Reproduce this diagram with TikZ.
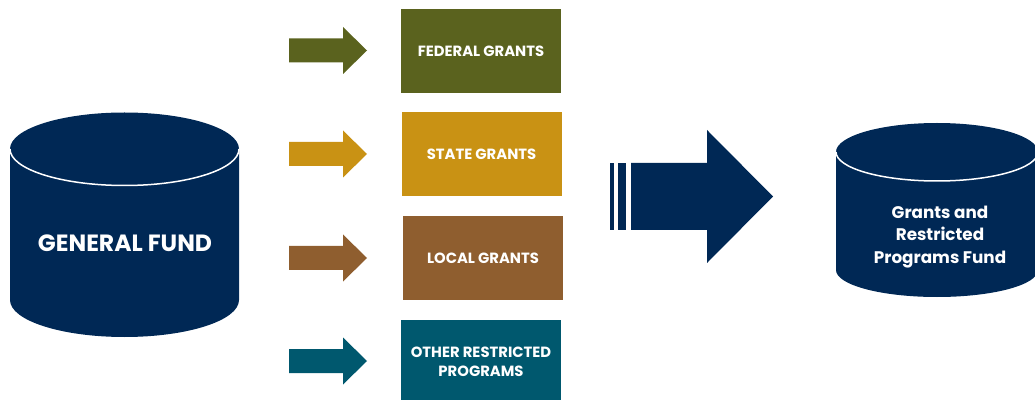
\documentclass[tikz,border=0pt]{standalone}
\usepackage{fontspec}
\setmainfont{Poppins}
\usepackage{tikz}

\definecolor{fundblue}{RGB}{0,40,85}
\definecolor{federalgreen}{RGB}{90,98,30}
\definecolor{stategold}{RGB}{201,146,20}
\definecolor{localbrown}{RGB}{143,94,47}
\definecolor{otherteal}{RGB}{0,88,110}

\tikzset{
  grantbox/.style={minimum width=160pt, minimum height=84pt, inner sep=0pt,
    text=white, align=center, font=\bfseries\fontsize{14.8}{19}\selectfont},
  fundlabel/.style={text=white, align=center, inner sep=0pt},
  rimline/.style={white, line width=1.5pt}
}

\begin{document}
\begin{tikzpicture}[x=1pt, y=1pt]
			\useasboundingbox (0,0) rectangle (1035,399);
			% general fund
			\fill [fundblue] (10,250) -- (10,99) arc [start angle=180, end angle=360, x radius=114.5, y radius=37] -- (239,250) arc [start angle=0, end angle=180, x radius=114.5, y radius=36.5] -- cycle;
			\draw [rimline] (10,250) arc [start angle=180, end angle=360, x radius=114.5, y radius=36.5];
			\node [fundlabel, font=\bfseries\fontsize{23.5}{27}\selectfont] (general) at (125,156) {GENERAL FUND};
			% grants
			\node [grantbox, fill=federalgreen] (federal) at (481,348) {FEDERAL GRANTS};
			\node [grantbox, fill=stategold] (state) at (481.5,245) {STATE GRANTS};
			\node [grantbox, fill=localbrown] (local) at (483,141) {LOCAL GRANTS};
			\node [grantbox, fill=otherteal] (other) at (481,37) {OTHER RESTRICTED\\PROGRAMS};
			\fill [federalgreen] (289,360.5) -- (343,360.5) -- (343,372) -- (367,348.5) -- (343,325) -- (343,336.5) -- (289,336.5) -- cycle;
			\fill [stategold] (289,257) -- (343,257) -- (343,268.5) -- (367,245) -- (343,221.5) -- (343,233) -- (289,233) -- cycle;
			\fill [localbrown] (289,153) -- (343,153) -- (343,164.5) -- (367,141) -- (343,117.5) -- (343,129) -- (289,129) -- cycle;
			\fill [otherteal] (289,50) -- (343,50) -- (343,61.5) -- (367,38) -- (343,14.5) -- (343,26) -- (289,26) -- cycle;
			% big arrow
			\fill [fundblue] (610,169) rectangle (614,236);
			\fill [fundblue] (618,169) rectangle (626,236);
			\fill [fundblue] (631,236) -- (707,236) -- (707,269) -- (773,202.5) -- (707,136) -- (707,169) -- (631,169) -- cycle;
			% restricted fund
			\fill [fundblue] (836,247) -- (836,129) arc [start angle=180, end angle=360, x radius=101, y radius=27] -- (1038,247) arc [start angle=0, end angle=180, x radius=101, y radius=29] -- cycle;
			\draw [rimline] (836,247) arc [start angle=180, end angle=360, x radius=101, y radius=29];
			\node [fundlabel, font=\bfseries\fontsize{16.8}{22.5}\selectfont] (restricted) at (940,162) {Grants and\\Restricted\\Programs Fund};
		\end{tikzpicture}
\end{document}
